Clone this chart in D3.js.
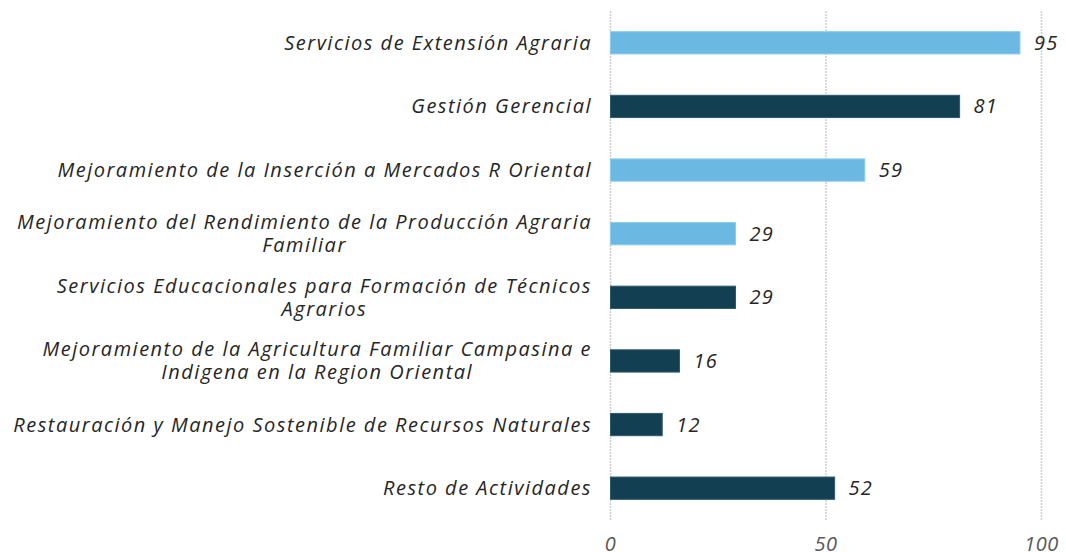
<!DOCTYPE html>
<html>
<head>
<meta charset="utf-8">
<script src="https://cdn.jsdelivr.net/npm/d3@7"></script>
<style>
  html, body { margin: 0; padding: 0; background: #fff; overflow: hidden; }
  svg text { font-family: "Open Sans", sans-serif; font-style: italic; }
</style>
</head>
<body>
<figure id="bar" style="margin:0"></figure>
<script>
// category labels (split into lines as in the original)
const categories = [
  ["Servicios de Extensión Agraria"],
  ["Gestión Gerencial"],
  ["Mejoramiento de la Inserción a Mercados R Oriental"],
  ["Mejoramiento del Rendimiento de la Producción Agraria", "Familiar"],
  ["Servicios Educacionales para Formación de Técnicos", "Agrarios"],
  ["Mejoramiento de la Agricultura Familiar Campasina e", "Indigena en la Region Oriental"],
  ["Restauración y Manejo Sostenible de Recursos Naturales"],
  ["Resto de Actividades"]
];
const values = [95, 81, 59, 29, 29, 16, 12, 52];
// highlighted bars use the light colour
const highlight = [true, false, true, true, false, false, false, false];
const xTicks = [0, 50, 100];

const width = 1066, height = 552;
const plotLeft = 610, plotRight = 1042, plotTop = 11, plotBottom = 520;

const svg = d3.select("figure#bar")
  .append("svg")
  .attr("width", width)
  .attr("height", height);

const x = d3.scaleLinear().domain([0, 100]).range([plotLeft + 0.5, plotRight - 0.5]);

const y = d3.scaleBand()
  .domain(d3.range(values.length))
  .range([plotTop, plotBottom])
  .paddingInner(0.65)
  .paddingOuter(0.325);

// vertical grid lines
svg.append("g")
  .selectAll("line")
  .data(xTicks)
  .enter()
  .append("line")
  .attr("x1", d => x(d))
  .attr("x2", d => x(d))
  .attr("y1", plotTop)
  .attr("y2", plotBottom)
  .attr("stroke", "#cfcfcf")
  .attr("stroke-width", 1.5)
  .attr("stroke-dasharray", "2,1");

// tick labels
svg.append("g")
  .selectAll("text")
  .data(xTicks)
  .enter()
  .append("text")
  .attr("x", d => x(d))
  .attr("y", 551)
  .attr("text-anchor", "middle")
  .attr("font-size", 20)
  .attr("letter-spacing", 0.5)
  .attr("fill", "#595959")
  .text(d => d);

// bars
svg.append("g")
  .selectAll("rect")
  .data(values)
  .enter()
  .append("rect")
  .attr("x", x(0))
  .attr("y", (d, i) => y(i))
  .attr("width", d => x(d) - x(0))
  .attr("height", y.bandwidth())
  .attr("fill", (d, i) => highlight[i] ? "#6bb8e2" : "#123f51")
  .attr("stroke", (d, i) => highlight[i] ? "#8ccbec" : "#2f5a6b")
  .attr("stroke-width", 1);

// value labels
svg.append("g")
  .selectAll("text")
  .data(values)
  .enter()
  .append("text")
  .attr("x", d => x(d) + 14)
  .attr("y", (d, i) => y(i) + y.bandwidth() / 2)
  .attr("dy", "0.35em")
  .attr("font-size", 20)
  .attr("letter-spacing", 1.2)
  .attr("fill", "#262626")
  .text(d => d);

// category labels: block right-aligned, lines centred on each other
const lineH = 23;
const labels = svg.append("g");
categories.forEach((lines, i) => {
  const g = labels.append("g");
  const texts = lines.map((t, j) => g.append("text")
    .attr("y", y(i) + y.bandwidth() / 2 + (j - (lines.length - 1) / 2) * lineH)
    .attr("dy", "0.35em")
    .attr("font-size", 20)
    .attr("letter-spacing", 1.5)
    .attr("fill", "#262626")
    .attr("text-anchor", "middle")
    .text(t));
  const w = d3.max(texts, t => t.node().getComputedTextLength());
  texts.forEach(t => t.attr("x", 592 - w / 2));
});
</script>
</body>
</html>
